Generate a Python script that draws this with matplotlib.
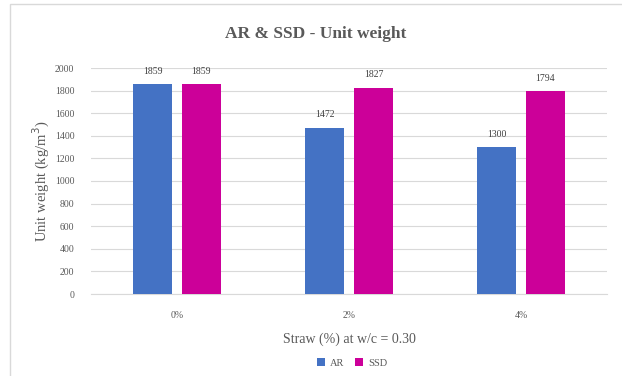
import matplotlib
matplotlib.use('Agg')
import matplotlib.pyplot as plt
import numpy as np
from matplotlib.patches import Rectangle

plt.rcParams['font.family'] = ['Liberation Serif', 'DejaVu Serif']

categories = ['0%', '2%', '4%']
ar_values = [1859, 1472, 1300]
ssd_values = [1859, 1827, 1794]

W, H = 622, 376
fig = plt.figure(figsize=(W / 100, H / 100), dpi=100)

# outer frame of the chart area (cropped on right/bottom)
fig.patches.append(Rectangle((10 / W, -0.1), 1.2, 1 - 4 / H + 0.1,
                             transform=fig.transFigure, fill=False,
                             edgecolor='#d9d9d9', linewidth=1))

ax = fig.add_axes([91 / W, 1 - 294 / H, (607 - 91) / W, (294 - 68) / H])

x = np.arange(len(categories))
width = 0.226
off = 0.142
bars_ar = ax.bar(x - off, ar_values, width, color='#4472C4', label='AR', zorder=3)
bars_ssd = ax.bar(x + off, ssd_values, width, color='#CC0099', label='SSD', zorder=3)

for bars in (bars_ar, bars_ssd):
    for b in bars:
        ax.annotate(str(int(b.get_height())), (b.get_x() + b.get_width() / 2, b.get_height()),
                    textcoords='offset points', xytext=(0, 6), ha='center', va='bottom',
                    fontsize=7, color='#404040')

ax.set_xlim(-0.5, 2.5)
ax.set_ylim(0, 2000)
ax.set_yticks(range(0, 2001, 200))
ax.set_xticks(x)
ax.set_xticklabels(categories)
ax.tick_params(axis='both', length=0, labelsize=7, labelcolor='#595959')
ax.tick_params(axis='x', pad=12)
ax.tick_params(axis='y', pad=12)
ax.grid(axis='y', color='#d9d9d9', linewidth=0.8, zorder=0)
for s in ['top', 'right', 'left']:
    ax.spines[s].set_visible(False)
ax.spines['bottom'].set_color('#d9d9d9')

ax.set_ylabel('Unit weight (kg/m$^3$)', fontsize=10.5, color='#595959', labelpad=2)
ax.set_xlabel('Straw (%) at w/c = 0.30', fontsize=10, color='#595959', labelpad=9)

fig.text(316 / W, 1 - 34 / H, 'AR & SSD - Unit weight', ha='center', va='center',
         fontsize=12.5, fontweight='bold', color='#595959')

fig.legend(handles=[bars_ar, bars_ssd], labels=['AR', 'SSD'], loc='center',
           bbox_to_anchor=(352 / W, 1 - 363 / H), ncol=2, frameon=False,
           fontsize=7.5, handlelength=0.8, handleheight=0.8, columnspacing=1.0,
           handletextpad=0.5, labelcolor='#595959')

fig.savefig('out.png', dpi=100)
